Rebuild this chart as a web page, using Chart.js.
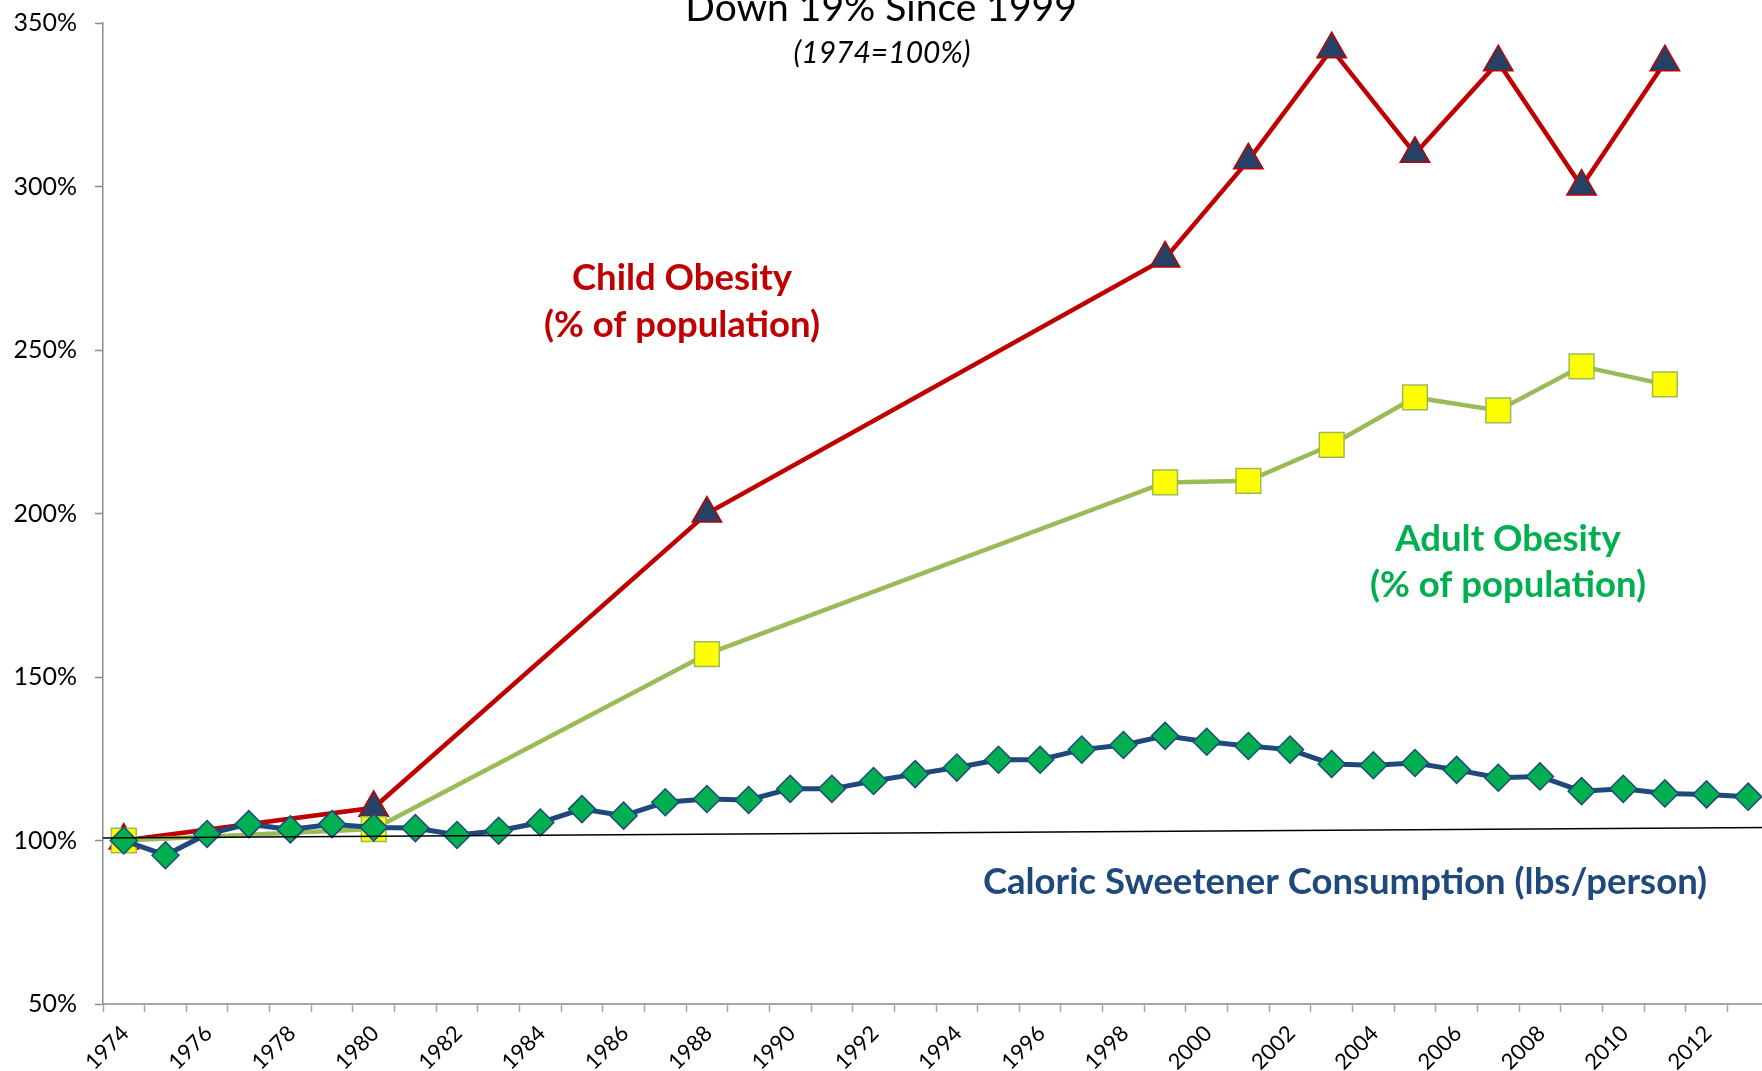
<!DOCTYPE html>
<html>
<head>
<meta charset="utf-8">
<title>Obesity vs. Caloric Sweetener Consumption</title>
<script src="https://cdn.jsdelivr.net/npm/chart.js@4.4.1/dist/chart.umd.min.js"></script>
<style>
    html, body { margin: 0; padding: 0; background: #fff; overflow: hidden; }
    /* the plot runs a little past the right edge of the window */
    #chartContainer { position: relative; width: 1788px; height: 1071px; }
</style>
</head>
<body>
<div id="chartContainer"><canvas id="chartCanvas"></canvas></div>
<script>
// yearly categories on the x axis
const years = [
    "1974", "1975", "1976", "1977", "1978", "1979", "1980", "1981", "1982", "1983",
    "1984", "1985", "1986", "1987", "1988", "1989", "1990", "1991", "1992", "1993",
    "1994", "1995", "1996", "1997", "1998", "1999", "2000", "2001", "2002", "2003",
    "2004", "2005", "2006", "2007", "2008", "2009", "2010", "2011", "2012", "2013"
];

// survey years for the obesity series (1974 = 100%)
const surveyYears = ["1974", "1980", "1988", "1999", "2001", "2003", "2005", "2007", "2009", "2011"];
const childObesity = [100, 110, 200, 278, 308, 342, 310, 338, 300, 338];
const adultObesity = [100, 103.5, 157, 209.5, 210, 221, 235.5, 231.5, 245, 239.5];

// caloric sweetener consumption, one value per year (1974 = 100%)
const sweetener = [
    100, 95.5, 102, 105, 103.4, 105, 104, 103.8, 101.7, 103,
    105.5, 109.6, 107.6, 111.7, 112.7, 112.4, 115.8, 115.8, 118.2, 120.3,
    122.3, 124.7, 124.7, 127.8, 129.2, 132, 130.2, 128.9, 127.8, 123.4,
    123, 123.7, 121.6, 119.2, 119.6, 115.1, 115.8, 114.4, 114.1, 113.4
];

// thin reference line across the whole plot (start, end)
const trendX = [0, 1];
const trendValues = [100.8, 104.0];

const yMin = 50;
const yMax = 350;
const yStep = 50;

const FONT = "Lato, 'Open Sans', sans-serif";

// free text drawn over the chart
const notes = [
    { text: "Down 19% Since 1999", x: 881, y: 21, font: "39px " + FONT, color: "#000" },
    { text: "(1974=100%)", x: 882, y: 63, font: "italic 30px " + FONT, color: "#000" },
    { text: "Child Obesity", x: 682, y: 290, font: "bold 36.5px " + FONT, color: "#C00000" },
    { text: "(% of population)", x: 682, y: 337, font: "bold 36.5px " + FONT, color: "#C00000" },
    { text: "Adult Obesity", x: 1508, y: 551, font: "bold 36.5px " + FONT, color: "#00B050" },
    { text: "(% of population)", x: 1508, y: 597, font: "bold 36.5px " + FONT, color: "#00B050" },
    { text: "Caloric Sweetener Consumption (lbs/person)", x: 1345, y: 894, font: "bold 36.5px " + FONT, color: "#1F497D" }
];

const chartText = {
    id: "chartText",
    afterDraw(chart) {
        const c = chart.ctx;
        c.save();
        c.textAlign = "center";
        c.textBaseline = "alphabetic";
        notes.forEach(n => {
            c.font = n.font;
            c.fillStyle = n.color;
            c.fillText(n.text, n.x, n.y);
        });
        c.restore();
    }
};

const ctx = document.getElementById("chartCanvas").getContext("2d");

new Chart(ctx, {
    type: "line",
    data: {
        labels: years,
        datasets: [
            {
                label: "Trend",
                data: trendX.map((x, i) => ({ x: x, y: trendValues[i] })),
                xAxisID: "xTrend",
                borderColor: "#000",
                borderWidth: 1.5,
                pointRadius: 0,
                order: 0
            },
            {
                label: "Caloric Sweetener Consumption (lbs/person)",
                data: sweetener,
                borderColor: "#1F497D",
                borderWidth: 5,
                pointStyle: "rectRot",
                pointRadius: 13.5,
                pointBackgroundColor: "#00B050",
                pointBorderColor: "#1F497D",
                pointBorderWidth: 1.5,
                order: 1
            },
            {
                label: "Adult Obesity (% of population)",
                data: surveyYears.map((y, i) => ({ x: y, y: adultObesity[i] })),
                borderColor: "#9BBB59",
                borderWidth: 4.5,
                pointStyle: "rect",
                pointRadius: 17.5,
                pointBackgroundColor: "#FFFF00",
                pointBorderColor: "#9BBB59",
                pointBorderWidth: 1.5,
                order: 2
            },
            {
                label: "Child Obesity (% of population)",
                data: surveyYears.map((y, i) => ({ x: y, y: childObesity[i] })),
                borderColor: "#C00000",
                borderWidth: 4.5,
                pointStyle: "triangle",
                pointRadius: 17,
                pointBackgroundColor: "#264166",
                pointBorderColor: "#C00000",
                pointBorderWidth: 1.5,
                order: 3
            }
        ]
    },
    options: {
        responsive: true,
        maintainAspectRatio: false,
        animation: false,
        layout: { padding: { top: 23, right: 1, bottom: 0, left: 0 } },
        elements: { line: { tension: 0 } },
        plugins: {
            legend: { display: false },
            tooltip: { enabled: false }
        },
        scales: {
            x: {
                type: "category",
                offset: true,
                grid: {
                    offset: true,
                    drawOnChartArea: false,
                    color: "#A6A6A6",
                    tickLength: 8,
                    tickWidth: 1.5
                },
                border: { color: "#A6A6A6", width: 2 },
                ticks: {
                    autoSkip: false,
                    minRotation: 45,
                    maxRotation: 45,
                    padding: 8.5,
                    labelOffset: 1.5,
                    color: "#000",
                    font: { family: FONT, size: 22 },
                    callback: (v, i) => (i % 2 === 0 ? years[i] : "")
                },
                afterFit(scale) {
                    scale.height = 67;
                    scale.paddingLeft = 0;
                    scale.paddingRight = 0;
                }
            },
            xTrend: {
                type: "linear",
                display: false,
                min: 0,
                max: 1
            },
            y: {
                min: yMin,
                max: yMax,
                grid: {
                    drawOnChartArea: false,
                    color: "#8C8C8C",
                    tickLength: 8,
                    tickWidth: 1.5
                },
                border: { color: "#8C8C8C", width: 1.5 },
                ticks: {
                    stepSize: yStep,
                    padding: 18,
                    color: "#000",
                    font: { family: FONT, size: 25 },
                    callback: v => v + "%"
                },
                afterFit(scale) {
                    scale.width = 103;
                    scale.paddingTop = 0;
                    scale.paddingBottom = 0;
                }
            }
        }
    },
    plugins: [chartText]
});
</script>
</body>
</html>
